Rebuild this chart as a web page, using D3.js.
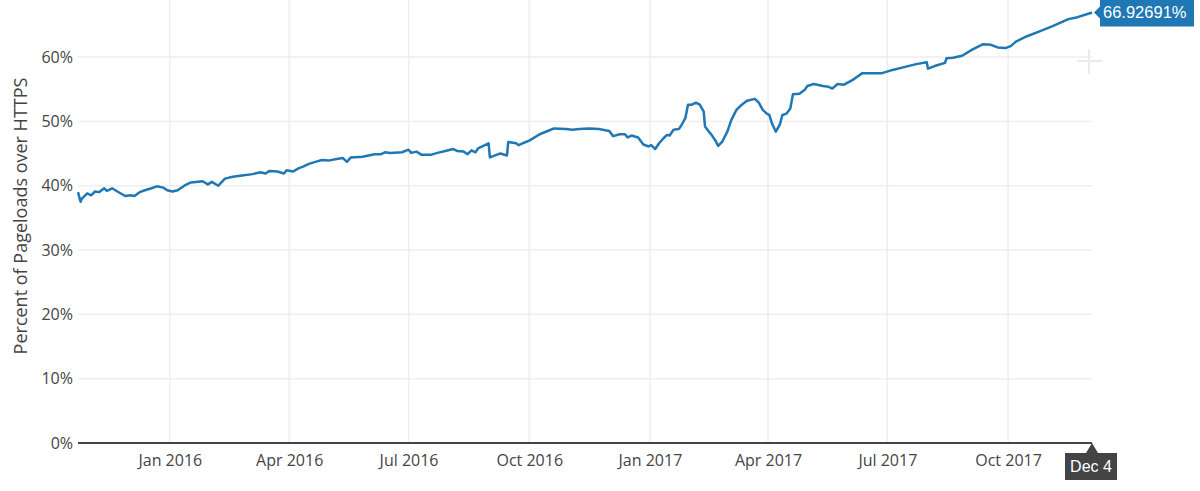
<!DOCTYPE html>
<html>
<head>
<meta charset="utf-8">
<script src="https://cdn.jsdelivr.net/npm/d3@7"></script>
<style>
  body { margin: 0; background: #fff; }
  svg { display: block; font-family: "Open Sans", sans-serif; }
</style>
</head>
<body>
<div class="content"></div>
<script>
// chart size and plot box
var svgWidth = 1200;
var svgHeight = 491;
var margin = { top: 0, right: 108, bottom: 48, left: 78 };
var width = svgWidth - margin.left - margin.right;
var height = svgHeight - margin.top - margin.bottom;

// share of pageloads over HTTPS (percent)
var points = [
  ["2015-10-23", 39.0], ["2015-10-25", 37.5], ["2015-10-26", 38.0], ["2015-10-30", 38.8],
  ["2015-11-02", 38.5], ["2015-11-05", 39.1], ["2015-11-08", 39.0], ["2015-11-12", 39.6],
  ["2015-11-14", 39.2], ["2015-11-18", 39.6], ["2015-11-22", 39.1], ["2015-11-28", 38.4],
  ["2015-12-02", 38.5], ["2015-12-05", 38.4], ["2015-12-09", 39.0], ["2015-12-13", 39.3],
  ["2015-12-18", 39.6], ["2015-12-22", 39.9], ["2015-12-27", 39.7], ["2015-12-30", 39.3],
  ["2016-01-03", 39.1], ["2016-01-07", 39.3], ["2016-01-12", 40.0], ["2016-01-17", 40.5],
  ["2016-01-26", 40.7], ["2016-01-30", 40.2], ["2016-02-02", 40.6], ["2016-02-07", 40.0],
  ["2016-02-12", 41.1], ["2016-02-18", 41.4], ["2016-02-25", 41.6], ["2016-03-04", 41.8],
  ["2016-03-10", 42.1], ["2016-03-14", 41.9], ["2016-03-17", 42.3], ["2016-03-23", 42.2],
  ["2016-03-28", 41.9], ["2016-03-30", 42.4], ["2016-04-04", 42.2], ["2016-04-08", 42.7],
  ["2016-04-12", 43.0], ["2016-04-16", 43.4], ["2016-04-21", 43.7], ["2016-04-26", 44.0],
  ["2016-05-01", 43.9], ["2016-05-06", 44.1], ["2016-05-12", 44.3], ["2016-05-15", 43.7],
  ["2016-05-18", 44.4], ["2016-05-27", 44.5], ["2016-06-05", 44.9], ["2016-06-10", 44.9],
  ["2016-06-13", 45.2], ["2016-06-17", 45.1], ["2016-06-26", 45.2], ["2016-07-01", 45.6],
  ["2016-07-03", 45.1], ["2016-07-07", 45.3], ["2016-07-11", 44.8], ["2016-07-18", 44.8],
  ["2016-07-23", 45.1], ["2016-07-29", 45.4], ["2016-08-04", 45.7], ["2016-08-07", 45.4],
  ["2016-08-12", 45.3], ["2016-08-15", 44.9], ["2016-08-18", 45.5], ["2016-08-21", 45.2],
  ["2016-08-23", 45.8], ["2016-08-27", 46.2], ["2016-08-31", 46.6], ["2016-09-01", 44.4],
  ["2016-09-06", 44.8], ["2016-09-09", 45.0], ["2016-09-14", 44.7], ["2016-09-15", 46.8],
  ["2016-09-21", 46.6], ["2016-09-23", 46.3], ["2016-09-26", 46.6], ["2016-10-01", 47.0],
  ["2016-10-09", 48.0], ["2016-10-15", 48.5], ["2016-10-20", 48.9], ["2016-10-29", 48.8],
  ["2016-11-03", 48.7], ["2016-11-08", 48.8], ["2016-11-16", 48.9], ["2016-11-23", 48.8],
  ["2016-12-01", 48.5], ["2016-12-04", 47.7], ["2016-12-09", 48.0], ["2016-12-13", 48.0],
  ["2016-12-15", 47.5], ["2016-12-18", 47.8], ["2016-12-23", 47.5], ["2016-12-27", 46.4],
  ["2016-12-31", 46.1], ["2017-01-02", 46.3], ["2017-01-05", 45.7], ["2017-01-08", 46.6],
  ["2017-01-11", 47.3], ["2017-01-14", 47.9], ["2017-01-16", 47.8], ["2017-01-19", 48.7],
  ["2017-01-23", 48.8], ["2017-01-25", 49.4], ["2017-01-28", 50.5], ["2017-01-30", 52.6],
  ["2017-02-02", 52.6], ["2017-02-05", 52.9], ["2017-02-08", 52.6], ["2017-02-11", 51.5],
  ["2017-02-12", 49.2], ["2017-02-15", 48.4], ["2017-02-17", 47.9], ["2017-02-20", 47.0],
  ["2017-02-22", 46.2], ["2017-02-25", 46.8], ["2017-03-01", 48.4], ["2017-03-04", 50.2],
  ["2017-03-08", 51.8], ["2017-03-12", 52.6], ["2017-03-16", 53.2], ["2017-03-22", 53.5],
  ["2017-03-25", 52.9], ["2017-03-28", 51.8], ["2017-03-31", 51.2], ["2017-04-02", 51.0],
  ["2017-04-04", 49.7], ["2017-04-07", 48.4], ["2017-04-10", 49.5], ["2017-04-12", 51.0],
  ["2017-04-15", 51.2], ["2017-04-18", 52.0], ["2017-04-20", 54.2], ["2017-04-25", 54.3],
  ["2017-04-29", 54.9], ["2017-05-01", 55.5], ["2017-05-06", 55.8], ["2017-05-13", 55.5],
  ["2017-05-17", 55.4], ["2017-05-20", 55.1], ["2017-05-24", 55.8], ["2017-05-29", 55.7],
  ["2017-06-05", 56.5], ["2017-06-12", 57.5], ["2017-06-27", 57.5], ["2017-07-05", 58.0],
  ["2017-07-13", 58.4], ["2017-07-23", 58.9], ["2017-07-31", 59.2], ["2017-08-01", 58.2],
  ["2017-08-06", 58.6], ["2017-08-14", 59.1], ["2017-08-15", 59.8], ["2017-08-20", 59.9],
  ["2017-08-27", 60.2], ["2017-09-04", 61.2], ["2017-09-12", 62.0], ["2017-09-18", 61.9],
  ["2017-09-23", 61.5], ["2017-09-29", 61.4], ["2017-10-03", 61.7], ["2017-10-07", 62.4],
  ["2017-10-15", 63.2], ["2017-10-25", 64.0], ["2017-11-04", 64.8], ["2017-11-16", 65.9],
  ["2017-11-23", 66.2], ["2017-12-03", 66.85], ["2017-12-04", 66.92691]
];

// axis ticks
var xTicks = ["2016-01-01", "2016-04-01", "2016-07-01", "2016-10-01",
  "2017-01-01", "2017-04-01", "2017-07-01", "2017-10-01"];
var yTicks = [0, 10, 20, 30, 40, 50, 60];
var xStart = "2015-10-23";
var xEnd = "2017-12-04";
var yMax = 68.87;

var parseDate = d3.timeParse("%Y-%m-%d");
var data = points.map(function(p) {
  return { date: parseDate(p[0]), value: p[1] };
});

var svg = d3.select(".content")
  .append("svg")
  .attr("width", svgWidth)
  .attr("height", svgHeight);

var chartGroup = svg.append("g")
  .attr("transform", `translate(${margin.left}, ${margin.top})`);

var xScale = d3.scaleTime()
  .domain([parseDate(xStart), parseDate(xEnd)])
  .range([0, width]);

var yScale = d3.scaleLinear()
  .domain([0, yMax])
  .range([height, 0]);

// grid lines
chartGroup.append("g")
  .selectAll("line")
  .data(xTicks)
  .enter()
  .append("line")
  .attr("x1", d => xScale(parseDate(d)))
  .attr("x2", d => xScale(parseDate(d)))
  .attr("y1", 0)
  .attr("y2", height)
  .attr("stroke", "#eee")
  .attr("stroke-width", 1.5);

chartGroup.append("g")
  .selectAll("line")
  .data(yTicks.filter(d => d > 0))
  .enter()
  .append("line")
  .attr("x1", 0)
  .attr("x2", width)
  .attr("y1", d => yScale(d))
  .attr("y2", d => yScale(d))
  .attr("stroke", "#eee")
  .attr("stroke-width", 1.5);

// faint crosshair cursor
var cross = svg.append("g")
  .attr("stroke", "#ebebeb")
  .attr("stroke-width", 2);
cross.append("line").attr("x1", 1077).attr("x2", 1102).attr("y1", 61).attr("y2", 61);
cross.append("line").attr("x1", 1089).attr("x2", 1089).attr("y1", 49).attr("y2", 74);

// axes
var bottomAxis = d3.axisBottom(xScale)
  .tickValues(xTicks.map(parseDate))
  .tickFormat(d3.timeFormat("%b %Y"))
  .tickSize(0)
  .tickPadding(12);

var leftAxis = d3.axisLeft(yScale)
  .tickValues(yTicks)
  .tickFormat(d => d + "%")
  .tickSize(0)
  .tickPadding(5);

var xAxis = chartGroup.append("g")
  .attr("transform", `translate(0, ${height})`)
  .call(bottomAxis);

var yAxis = chartGroup.append("g")
  .call(leftAxis);

[xAxis, yAxis].forEach(function(ax) {
  ax.select(".domain").remove();
  ax.selectAll("text")
    .attr("fill", "#444")
    .style("font-family", "'Open Sans', sans-serif")
    .style("font-size", "16px");
});

// zero line
chartGroup.append("line")
  .attr("x1", 0)
  .attr("x2", width)
  .attr("y1", yScale(0))
  .attr("y2", yScale(0))
  .attr("stroke", "#444")
  .attr("stroke-width", 2);

// y axis title
svg.append("text")
  .attr("transform", "rotate(-90)")
  .attr("x", -216)
  .attr("y", 27)
  .attr("text-anchor", "middle")
  .attr("fill", "#444")
  .style("font-size", "18px")
  .text("Percent of Pageloads over HTTPS");

// the series
var line = d3.line()
  .x(d => xScale(d.date))
  .y(d => yScale(d.value));

chartGroup.append("path")
  .datum(data)
  .attr("d", line)
  .attr("fill", "none")
  .attr("stroke", "#1f77b4")
  .attr("stroke-width", 2.5)
  .attr("stroke-linejoin", "round");

// hover labels at the last point
var last = data[data.length - 1];
var px = margin.left + xScale(last.date);
var py = margin.top + yScale(last.value);

var valueLabel = svg.append("g")
  .attr("transform", `translate(${px}, ${py})`);
valueLabel.append("path")
  .attr("d", "M2,0 L8,-6 V-14 H102 V14 H8 V6 Z")
  .attr("fill", "#1f77b4");
valueLabel.append("text")
  .attr("x", 11)
  .attr("y", 6)
  .attr("fill", "#fff")
  .style("font-family", "Arial, 'Liberation Sans', sans-serif")
  .style("font-size", "16.5px")
  .text(d3.format(".7")(last.value) + "%");

var dateLabel = svg.append("g")
  .attr("transform", `translate(${px}, ${margin.top + height})`);
dateLabel.append("path")
  .attr("d", "M0,0 L6,10 H25 V37 H-27 V10 H-6 Z")
  .attr("fill", "#444");
dateLabel.append("text")
  .attr("x", -1)
  .attr("y", 29)
  .attr("text-anchor", "middle")
  .attr("fill", "#fff")
  .style("font-family", "Arial, 'Liberation Sans', sans-serif")
  .style("font-size", "16px")
  .text(d3.timeFormat("%b %-d")(last.date));
</script>
</body>
</html>
